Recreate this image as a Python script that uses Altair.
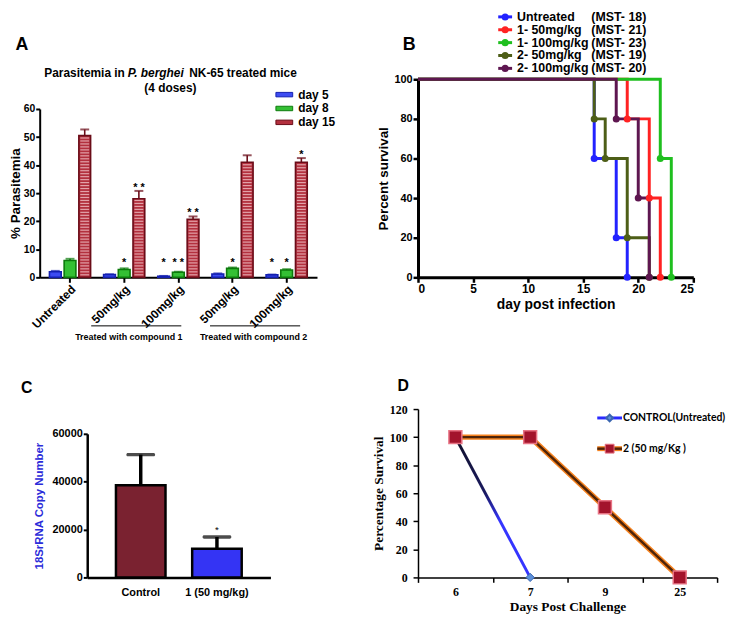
import altair as alt
import pandas as pd

SANS = "Liberation Sans"
SERIF = "Liberation Serif"
LEGF = "Lato"

# ---------------- Panel A data ----------------
a_groups = ["Untreated", "50mg/kg (1)", "100mg/kg (1)", "50mg/kg (2)", "100mg/kg (2)"]
a_days = ["day 5", "day 8", "day 15"]
a_day5 = [2.0, 1.0, 0.4, 1.2, 0.9]
a_day8 = [6.0, 2.8, 1.8, 3.2, 2.6]
a_day15 = [50.5, 28.0, 20.7, 41.0, 41.0]
a_err5 = [0.3, 0.1, 0.1, 0.2, 0.1]
a_err8 = [0.6, 0.4, 0.2, 0.3, 0.3]
a_err15 = [2.2, 2.8, 1.0, 2.5, 1.5]
a_star5 = ["", "", "*", "", "*"]
a_star8 = ["", "*", "* *", "*", "*"]
a_star15 = ["", "* *", "* *", "", "*"]
a_fill = ["#3d4cf2", "#34c034", "#b3303e"]
a_edge = ["#1420b0", "#0c7a0c", "#6a0c18"]

# ---------------- Panel B data ----------------
b_names = ["Untreated", "1- 50mg/kg", "1- 100mg/kg", "2- 50mg/kg", "2- 100mg/kg"]
b_mst = ["(MST- 18)", "(MST- 21)", "(MST- 23)", "(MST- 19)", "(MST- 20)"]
b_colors = ["#2222ff", "#ff2222", "#1fbf1f", "#4d5e17", "#5e1650"]
b_untreated_day = [0, 16, 18, 19]
b_untreated_surv = [100, 60, 20, 0]
b_c1_50_day = [0, 19, 21, 22]
b_c1_50_surv = [100, 80, 40, 0]
b_c1_100_day = [0, 22, 23]
b_c1_100_surv = [100, 60, 0]
b_c2_50_day = [0, 16, 17, 19, 21]
b_c2_50_surv = [100, 80, 60, 20, 0]
b_c2_100_day = [0, 18, 20, 21]
b_c2_100_surv = [100, 80, 40, 0]

# ---------------- Panel C data ----------------
c_cats = ["Control", "1 (50 mg/kg)"]
c_vals = [38500, 12000]
c_errs = [12800, 4900]
c_stars = ["", "*"]
c_colors = ["#7a2230", "#3434f4"]

# ---------------- Panel D data ----------------
d_days = ["6", "7", "9", "25"]
d_ctrl_days = ["6", "7"]
d_ctrl = [100, 0]
d_trt_days = ["6", "7", "9", "25"]
d_trt = [100, 100, 50, 0]
d_labels = ["CONTROL(Untreated)", "2 (50 mg/Kg )"]


def note(text, x, y, size, weight="bold", style="normal", align="center",
         font=SANS, color="black", baseline="middle"):
    return alt.Chart(pd.DataFrame({"t": [text]})).mark_text(
        font=font, fontSize=size, fontWeight=weight, fontStyle=style,
        align=align, baseline=baseline, color=color
    ).encode(x=alt.value(x), y=alt.value(y), text="t:N")


def hline(x1, x2, y, width=1):
    return alt.Chart(pd.DataFrame({"k": [0]})).mark_rule(
        color="black", strokeWidth=width
    ).encode(x=alt.value(x1), x2=alt.value(x2), y=alt.value(y))


# ======================= Panel A =======================
WA, HA = 280, 200
rows = []
for d, vals, errs, stars in zip(a_days, [a_day5, a_day8, a_day15],
                                [a_err5, a_err8, a_err15],
                                [a_star5, a_star8, a_star15]):
    for g, v, e, s in zip(a_groups, vals, errs, stars):
        rows.append({"group": g, "day": d, "value": v, "err": e, "star": s})
dfA = pd.DataFrame(rows)

axA_x = alt.Axis(title=None, labelAngle=-45, labelExpr="split(datum.label, ' ')[0]",
                 labelFont=SANS, labelFontWeight="bold", labelFontSize=12,
                 labelColor="black", domainColor="black", domainWidth=2,
                 tickColor="black", tickWidth=2, tickSize=5, labelPadding=1,
                 labelOverlap=False)
axA_y = alt.Axis(values=[0, 10, 20, 30, 40, 50, 60], title="% Parasitemia",
                 titleFont=SANS, titleFontWeight="bold", titleFontSize=13.5,
                 titleColor="black", titlePadding=1, labelFont=SANS,
                 labelFontWeight="bold", labelFontSize=10.5, labelColor="black",
                 domainColor="black", domainWidth=2, tickColor="black",
                 tickWidth=2, tickSize=4, labelPadding=1, grid=False)
scA_x = alt.Scale(domain=a_groups, paddingInner=0.24, paddingOuter=0.18)
scA_o = alt.Scale(domain=a_days, paddingInner=0.2, paddingOuter=0)
scA_y = alt.Scale(domain=[0, 60], range=[HA, 30], nice=False)


def xA():
    return alt.X("group:N", scale=scA_x, axis=axA_x, sort=a_groups)


def oA():
    return alt.XOffset("day:N", scale=scA_o, sort=a_days)


def yA(f):
    return alt.Y(f, scale=scA_y, axis=axA_y)


legA = alt.Legend(title=None, orient="none", legendX=239, legendY=7.5,
                  symbolType="M-1.13,-0.3H1.13V0.3H-1.13Z", symbolSize=225,
                  symbolStrokeColor="#222222", symbolStrokeWidth=1,
                  labelFont=SANS, labelFontWeight="bold", labelFontSize=12,
                  labelColor="black", labelOffset=6, rowPadding=0)

barsA = alt.Chart(dfA).mark_bar(strokeWidth=1.6).encode(
    x=xA(), xOffset=oA(), y=yA("value:Q"),
    fill=alt.Fill("day:N", scale=alt.Scale(domain=a_days, range=a_fill), legend=legA),
    stroke=alt.Stroke("day:N", scale=alt.Scale(domain=a_days, range=a_edge), legend=None),
)
stripesA = alt.Chart(dfA).transform_filter("datum.day == 'day 15'").transform_calculate(
    s="sequence(0.9, datum.value - 0.5, 1.06)"
).transform_flatten(["s"]).mark_tick(color="#f6d3d7", thickness=1.2, size=9).encode(
    x=xA(), xOffset=oA(), y=yA("s:Q"))
errA = alt.Chart(dfA).transform_calculate(top="datum.value + datum.err").mark_rule(
    strokeWidth=1.6).encode(
    x=xA(), xOffset=oA(), y=yA("value:Q"), y2="top:Q",
    stroke=alt.Stroke("day:N", scale=alt.Scale(domain=a_days, range=a_edge), legend=None))
capA = alt.Chart(dfA).transform_calculate(top="datum.value + datum.err").mark_tick(
    thickness=2, size=9).encode(
    x=xA(), xOffset=oA(), y=yA("top:Q"),
    color=alt.Color("day:N", scale=alt.Scale(domain=a_days, range=a_edge), legend=None))
starA = alt.Chart(dfA).transform_filter("datum.star != ''").transform_calculate(
    sy="max(datum.value + datum.err, 3.9)").mark_text(
    font=SANS, fontWeight="bold", fontSize=11, baseline="alphabetic", color="black").encode(
    x=xA(), xOffset=oA(), y=yA("sy:Q"), text="star:N")

panelA = alt.layer(
    barsA, stripesA, errA, capA, starA,
    note("A", -18, -35, 18),
    note("Parasitemia in", 86, -6, 12, align="right"),
    note("P. berghei", 89, -6, 12, style="italic", align="left"),
    note("NK-65 treated mice", 151, -6, 12, align="left"),
    note("(4 doses)", 132, 9, 12),
    hline(52, 143, 249), hline(172, 263, 249),
    note("Treated with compound 1", 90, 260, 9),
    note("Treated with compound 2", 216, 260, 9),
).properties(width=WA, height=HA)

# ======================= Panel B =======================
WB, HB = 278, 200
axB_common = dict(domainColor="black", domainWidth=3, tickColor="black", tickWidth=2.5,
                  tickSize=5, labelFont=SANS, labelFontWeight="bold", labelColor="black",
                  titleFont=SANS, titleFontWeight="bold", titleColor="black", grid=False)
axB_x = alt.Axis(values=[0, 5, 10, 15, 20, 25], title="day post infection",
                 labelFontSize=12, labelPadding=1, titleFontSize=14, titlePadding=3,
                 **axB_common)
axB_y = alt.Axis(values=[0, 20, 40, 60, 80, 100], title="Percent survival",
                 labelFontSize=11, labelPadding=1, titleFontSize=13.5, titlePadding=3,
                 **axB_common)
scB_x = alt.Scale(domain=[0, 25], nice=False)
scB_y = alt.Scale(domain=[0, 100], nice=False)

b_series = [
    (b_untreated_day, b_untreated_surv),
    (b_c1_50_day, b_c1_50_surv),
    (b_c1_100_day, b_c1_100_surv),
    (b_c2_50_day, b_c2_50_surv),
    (b_c2_100_day, b_c2_100_surv),
]
layersB = []
for (days, surv), col in zip(b_series, b_colors):
    dfs = pd.DataFrame({"day": days, "surv": surv})
    base = alt.Chart(dfs).encode(x=alt.X("day:Q", scale=scB_x, axis=axB_x),
                                 y=alt.Y("surv:Q", scale=scB_y, axis=axB_y))
    layersB.append(base.mark_line(interpolate="step-after", color=col, strokeWidth=3))
for (days, surv), col in zip(b_series, b_colors):
    dfs = pd.DataFrame({"day": days, "surv": surv})
    layersB.append(alt.Chart(dfs).transform_filter("datum.day > 0").mark_circle(
        size=50, color=col, opacity=1).encode(
        x=alt.X("day:Q", scale=scB_x, axis=axB_x),
        y=alt.Y("surv:Q", scale=scB_y, axis=axB_y)))

# legend rows for panel B (placed above the plot, in y-units of the panel)
b_leg_px = [-63 + 13 * k for k in range(len(b_names))]
dfBL = pd.DataFrame({"name": b_names, "mst": b_mst, "col": b_colors,
                     "ly": [100 - p * 100 / HB for p in b_leg_px]})
yBL = alt.Y("ly:Q", scale=scB_y, axis=axB_y)
legB = [
    alt.Chart(dfBL).mark_rule(strokeWidth=3).encode(
        x=alt.value(81), x2=alt.value(95), y=yBL, color=alt.Color("col:N", scale=None)),
    alt.Chart(dfBL).mark_circle(size=50, opacity=1).encode(
        x=alt.value(88), y=yBL, color=alt.Color("col:N", scale=None)),
    alt.Chart(dfBL).mark_text(align="left", font=SANS, fontWeight="bold", fontSize=12.5,
                              color="black").encode(x=alt.value(100), y=yBL, text="name:N"),
    alt.Chart(dfBL).mark_text(align="left", font=SANS, fontWeight="bold", fontSize=12.5,
                              color="black").encode(x=alt.value(175), y=yBL, text="mst:N"),
]
panelB = alt.layer(*layersB, *legB, note("B", -9, -35, 18)).properties(width=WB, height=HB)

# ======================= Panel C =======================
WC, HC = 233, 170
dfC = pd.DataFrame({"cat": c_cats, "val": c_vals, "err": c_errs, "star": c_stars,
                    "col": c_colors})
scC_x = alt.Scale(domain=c_cats, range=[48, 233], paddingInner=0.35, paddingOuter=0.377)
scC_y = alt.Scale(domain=[0, 60000], range=[HC, 25], nice=False)
axC_x = alt.Axis(title=None, labelAngle=0, ticks=False, labelPadding=9, labelFont=SANS,
                 labelFontWeight="bold", labelFontSize=11, labelColor="black",
                 domainColor="black", domainWidth=2.5)
axC_y = alt.Axis(values=[0, 20000, 40000, 60000], format="d", offset=-48,
                 title="18SrRNA Copy Number", titleColor="#2b2bd9", titleFont=SANS,
                 titleFontWeight="bold", titleFontSize=11.5, titlePadding=8,
                 labelFont=SANS, labelFontWeight="bold", labelFontSize=11,
                 labelColor="black", labelPadding=1, domainColor="black", domainWidth=2.5,
                 tickColor="black", tickWidth=2, tickSize=4, grid=False)
xC = alt.X("cat:N", scale=scC_x, axis=axC_x, sort=c_cats)
barsC = alt.Chart(dfC).mark_bar(stroke="black", strokeWidth=2.5).encode(
    x=xC, y=alt.Y("val:Q", scale=scC_y, axis=axC_y), fill=alt.Fill("col:N", scale=None))
errC = alt.Chart(dfC).transform_calculate(top="datum.val + datum.err").mark_rule(
    strokeWidth=3.5, color="black").encode(
    x=xC, y=alt.Y("val:Q", scale=scC_y, axis=axC_y), y2="top:Q")
capC = alt.Chart(dfC).transform_calculate(top="datum.val + datum.err").mark_tick(
    thickness=3.5, size=29, color="black", cornerRadius=1.5).encode(
    x=xC, y=alt.Y("top:Q", scale=scC_y, axis=axC_y))
starC = alt.Chart(dfC).transform_calculate(top="datum.val + datum.err").mark_text(
    font=SANS, fontSize=10, baseline="alphabetic", dy=-4, color="black").encode(
    x=xC, y=alt.Y("top:Q", scale=scC_y, axis=axC_y), text="star:N")
panelC = alt.layer(barsC, errC, capC, starC, note("C", -13, -21, 16)).properties(
    width=WC, height=HC)

# ======================= Panel D =======================
WD, HD = 302, 170
scD_x = alt.Scale(type="band", domain=d_days, paddingInner=0, paddingOuter=0)
scD_y = alt.Scale(domain=[0, 120], nice=False)
axD_common = dict(domainColor="black", domainWidth=1.5, tickColor="black", tickWidth=1.5,
                  tickSize=5, labelFont=SERIF, labelFontWeight="bold", labelColor="black",
                  labelFontSize=12, titleFont=SERIF, titleFontWeight="bold",
                  titleColor="black", titleFontSize=13.5, grid=False)
axD_x = alt.Axis(title="Days Post Challenge", tickBand="extent", labelAngle=0,
                 labelPadding=4, titlePadding=2, **axD_common)
axD_y = alt.Axis(values=[0, 20, 40, 60, 80, 100, 120], title="Percentage Survival",
                 labelPadding=6, titlePadding=4, **axD_common)
xD = alt.X("day:N", scale=scD_x, axis=axD_x, sort=d_days)
yD = alt.Y("surv:Q", scale=scD_y, axis=axD_y)
dfD_ctrl = pd.DataFrame({"day": d_ctrl_days, "surv": d_ctrl})
dfD_trt = pd.DataFrame({"day": d_trt_days, "surv": d_trt})

ctrl_grad = alt.LinearGradient(
    gradient="linear", x1=0, x2=0, y1=0, y2=1,
    stops=[alt.GradientStop(offset=0, color="#101028"),
           alt.GradientStop(offset=0.4, color="#1a1a60"),
           alt.GradientStop(offset=0.6, color="#3535ff"),
           alt.GradientStop(offset=1, color="#3535ff")])
lineCtrl = alt.Chart(dfD_ctrl).mark_line(stroke=ctrl_grad, strokeWidth=3).encode(x=xD, y=yD)
ptCtrl = alt.Chart(dfD_ctrl).mark_point(shape="diamond", filled=True, size=70,
                                        fill="#5b8fd9", stroke="#3a66b0",
                                        strokeWidth=1, opacity=1).encode(x=xD, y=yD)
lineTrt0 = alt.Chart(dfD_trt).mark_line(color="#f5821f", strokeWidth=5.5).encode(x=xD, y=yD)
lineTrt1 = alt.Chart(dfD_trt).mark_line(color="#4f2408", strokeWidth=2.5).encode(x=xD, y=yD)
ptTrt = alt.Chart(dfD_trt).mark_point(shape="square", filled=True, size=170,
                                      fill="#a3142c", stroke="#e87384", strokeWidth=1.5,
                                      opacity=1).encode(x=xD, y=yD)

d_leg_px = [9, 40]
dfDL = pd.DataFrame({"label": d_labels, "ly": [120 - p * 120 / HD for p in d_leg_px]})
yDL = alt.Y("ly:Q", scale=scD_y, axis=axD_y)
row0 = alt.Chart(dfDL.iloc[[0]])
row1 = alt.Chart(dfDL.iloc[[1]])
legD = [
    row0.mark_rule(color="#2a2aff", strokeWidth=3).encode(
        x=alt.value(181), x2=alt.value(206), y=yDL),
    row0.mark_point(shape="diamond", filled=True, size=45, fill="#5b8fd9",
                    stroke="#3a66b0", opacity=1).encode(x=alt.value(193.5), y=yDL),
    row1.mark_rule(color="#f5821f", strokeWidth=5).encode(
        x=alt.value(181), x2=alt.value(206), y=yDL),
    row1.mark_rule(color="#4f2408", strokeWidth=2.5).encode(
        x=alt.value(181), x2=alt.value(206), y=yDL),
    row1.mark_point(shape="square", filled=True, size=80, fill="#a3142c",
                    stroke="#e87384", strokeWidth=1, opacity=1).encode(
        x=alt.value(193.5), y=yDL),
    alt.Chart(dfDL).mark_text(align="left", font=LEGF, fontWeight="bold", fontSize=10.5,
                              color="black").encode(x=alt.value(207), y=yDL, text="label:N"),
]
panelD = alt.layer(lineCtrl, ptCtrl, lineTrt0, lineTrt1, ptTrt, *legD,
                   note("D", -15, -23.5, 16)).properties(width=WD, height=HD)

chart = alt.concat(
    panelA, panelB, panelC, panelD, columns=2,
    spacing={"row": 133, "column": 102}, bounds="flush", align="each",
).properties(padding=0, background="white").configure_view(stroke=None)

chart.save("out.html", embed_options={"renderer": "svg", "actions": False})
